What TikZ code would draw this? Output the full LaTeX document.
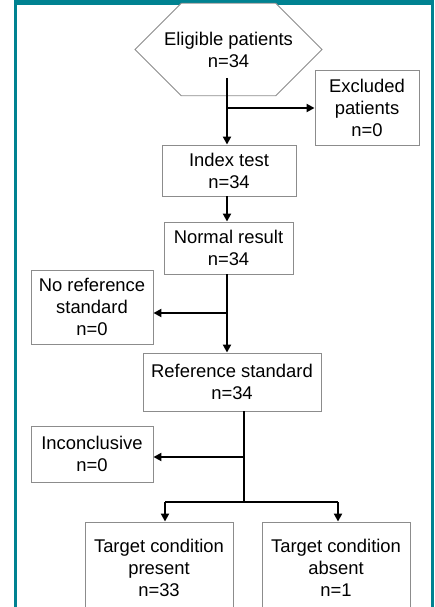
\documentclass[tikz,border=0pt]{standalone}
\usepackage{fontspec}
\setmainfont{Liberation Sans}
\usetikzlibrary{arrows.meta,shapes.misc}
\definecolor{frameteal}{RGB}{0,130,145}
\definecolor{boxgray}{RGB}{140,140,140}
\begin{document}
\begin{tikzpicture}[x=1pt,y=-1pt,
  box/.style={draw=boxgray,line width=0.9pt,fill=white,align=center,inner sep=0pt,
    font=\fontsize{18.4}{22}\selectfont},
  hexbox/.style={box,chamfered rectangle,chamfered rectangle corners=all,
    chamfered rectangle xsep=18pt,chamfered rectangle ysep=28.5pt},
  arr/.style={line width=2pt,-{Triangle[length=8pt,width=8pt]}},
  ln/.style={line width=2pt}]
\useasboundingbox (0,0) rectangle (434,607);
\clip (0,0) rectangle (434,607);
% frame
\fill[frameteal] (14,0) rectangle (434,5);
\fill[frameteal] (14,0) rectangle (17,607);
\fill[frameteal] (431,0) rectangle (434,607);
% nodes
\node[hexbox,minimum width=187pt,minimum height=57pt] (elig) at (228.5,49.5) {Eligible patients\\n=34};
\node[box,minimum width=104pt,minimum height=75pt] (excl) at (367,107.5) {Excluded\\patients\\n=0};
\node[box,minimum width=134pt,minimum height=51pt] (index) at (229,170.5) {Index test\\n=34};
\node[box,minimum width=129pt,minimum height=52pt] (normal) at (228.5,248) {Normal result\\n=34};
\node[box,minimum width=122pt,minimum height=74pt] (noref) at (92,307) {No reference\\standard\\n=0};
\node[box,minimum width=178pt,minimum height=58pt] (refstd) at (232,382) {Reference standard\\n=34};
\node[box,minimum width=122pt,minimum height=56pt] (incon) at (92,454) {Inconclusive\\n=0};
\node[box,minimum width=148pt,minimum height=92pt] (present) at (159,568) {Target condition\\present\\n=33};
\node[box,minimum width=148pt,minimum height=92pt] (absent) at (336,568) {Target condition\\absent\\n=1};
% connectors
\coordinate (a1) at (227,78);
\coordinate (b0) at (227,108);
\draw[arr] (a1) -- (a1 |- index.north);
\draw[arr] (b0) -- (b0 -| excl.west);
\draw[arr] (a1 |- index.south) -- (a1 |- normal.north);
\coordinate (b1) at (227,313);
\draw[arr] (a1 |- normal.south) -- (a1 |- refstd.north);
\draw[arr] (b1) -- (b1 -| noref.east);
\coordinate (c1) at (244,411);
\coordinate (b2) at (244,457);
\coordinate (b3) at (244,502);
\coordinate (lp) at (165,502);
\coordinate (rp) at (338,502);
\draw[ln] (c1) -- (b3);
\draw[arr] (b2) -- (b2 -| incon.east);
\draw[ln] (lp) -- (rp);
\draw[arr] (lp) -- (lp |- present.north);
\draw[arr] (rp) -- (rp |- absent.north);
\end{tikzpicture}
\end{document}
